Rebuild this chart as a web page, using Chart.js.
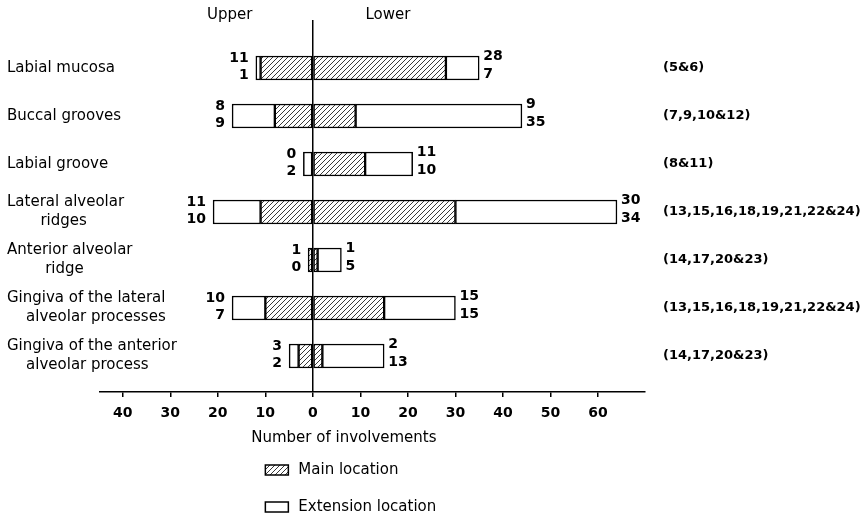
<!DOCTYPE html>
<html><head><meta charset="utf-8">
<script src="https://cdn.jsdelivr.net/npm/chart.js@4/dist/chart.umd.min.js"></script>
<style>html,body{margin:0;padding:0;background:#fff}</style>
</head><body>
<canvas id="c" width="867" height="518"></canvas>
<script>
const categories = [
  ['Labial mucosa'],
  ['Buccal grooves'],
  ['Labial groove'],
  ['Lateral alveolar', '       ridges'],
  ['Anterior alveolar', '        ridge'],
  ['Gingiva of the lateral', '    alveolar processes'],
  ['Gingiva of the anterior', '    alveolar process']
];
const studyRefs = ['(5&6)', '(7,9,10&12)', '(8&11)', '(13,15,16,18,19,21,22&24)', '(14,17,20&23)', '(13,15,16,18,19,21,22&24)', '(14,17,20&23)'];
const upperMain = [11, 8, 0, 11, 1, 10, 3];
const upperExt  = [1, 9, 2, 10, 0, 7, 2];
const lowerMain = [28, 9, 11, 30, 1, 15, 2];
const lowerExt  = [7, 35, 10, 34, 5, 15, 13];
const xTicks = [-40, -30, -20, -10, 0, 10, 20, 30, 40, 50, 60];
const sideLabels = ['Upper', 'Lower'];
const legendLabels = ['Main location', 'Extension location'];

const FONT = '"DejaVu Sans", sans-serif';
const canvas = document.getElementById('c');
const ctx0 = canvas.getContext('2d');

function makeHatch() {
  const s = 5;
  const c = document.createElement('canvas');
  c.width = s; c.height = s;
  const g = c.getContext('2d');
  g.fillStyle = '#fff'; g.fillRect(0, 0, s, s);
  g.strokeStyle = '#222'; g.lineWidth = 0.9;
  g.beginPath();
  g.moveTo(-1, s + 1); g.lineTo(s + 1, -1);
  g.moveTo(-1, 1); g.lineTo(1, -1);
  g.moveTo(s - 1, s + 1); g.lineTo(s + 1, s - 1);
  g.stroke();
  return ctx0.createPattern(c, 'repeat');
}
const hatch = makeHatch();

const barCommon = {
  borderColor: '#000',
  borderWidth: 1.5,
  borderSkipped: false,
  barThickness: 24
};

const idx = categories.map((_, i) => i);

const extras = {
  id: 'extras',
  afterDraw(chart) {
    const { ctx, scales: { x, y } } = chart;
    ctx.save();
    ctx.fillStyle = '#000';
    ctx.textBaseline = 'middle';
    ctx.font = 'bold 14px ' + FONT;
    categories.forEach((_, i) => {
      const yc = y.getPixelForValue(i);
      const lx = x.getPixelForValue(-(upperMain[i] + upperExt[i])) - 7;
      ctx.textAlign = 'right';
      ctx.fillText(String(upperMain[i]), lx, yc - 10);
      ctx.fillText(String(upperExt[i]), lx, yc + 7);
      const rx = x.getPixelForValue(lowerMain[i] + lowerExt[i]) + 4;
      ctx.textAlign = 'left';
      ctx.fillText(String(lowerMain[i]), rx, yc - 12);
      ctx.fillText(String(lowerExt[i]), rx, yc + 6);
    });
    ctx.font = '15px ' + FONT;
    ctx.textAlign = 'center';
    ctx.fillText(sideLabels[0], x.getPixelForValue(-17.5), 15);
    ctx.fillText(sideLabels[1], x.getPixelForValue(15.8), 15);

    // legend
    const bx = x.getPixelForValue(-10);
    const rows = [chart.height - 48, chart.height - 11];
    const fills = [hatch, '#fff'];
    ctx.textAlign = 'left';
    rows.forEach((yc, k) => {
      ctx.fillStyle = fills[k];
      ctx.fillRect(bx, yc - 5, 23, 10);
      ctx.strokeStyle = '#000';
      ctx.lineWidth = 1.5;
      ctx.strokeRect(bx, yc - 5, 23, 10);
      ctx.fillStyle = '#000';
      ctx.fillText(legendLabels[k], bx + 33, yc);
    });
    ctx.restore();
  }
};

new Chart(canvas, {
  type: 'bar',
  data: {
    labels: idx,
    datasets: [
      Object.assign({ label: 'Upper main', data: upperMain.map(v => -v), backgroundColor: hatch }, barCommon),
      Object.assign({ label: 'Upper extension', data: upperExt.map(v => -v), backgroundColor: '#fff' }, barCommon),
      Object.assign({ label: 'Lower main', data: lowerMain, backgroundColor: hatch }, barCommon),
      Object.assign({ label: 'Lower extension', data: lowerExt, backgroundColor: '#fff' }, barCommon)
    ]
  },
  options: {
    indexAxis: 'y',
    responsive: false,
    animation: false,
    layout: { padding: { left: 7, top: 20, right: 0, bottom: 0 } },
    plugins: { legend: { display: false }, tooltip: { enabled: false } },
    scales: {
      x: {
        type: 'linear', min: -44.8, max: 69.9, stacked: true, z: 1,
        afterBuildTicks: s => { s.ticks = xTicks.map(v => ({ value: v })); },
        ticks: {
          callback: v => String(Math.abs(v)),
          font: { family: FONT, size: 14, weight: 'bold' },
          color: '#000', padding: 8, maxRotation: 0, autoSkip: false
        },
        grid: {
          drawOnChartArea: true,
          color: c => (c.tick && c.tick.value === 0) ? '#000' : 'rgba(0,0,0,0)',
          lineWidth: 1.5,
          tickColor: '#000', tickLength: 5, tickWidth: 1.5
        },
        border: { display: true, color: '#000', width: 1.5 },
        title: {
          display: true, text: 'Number of involvements            ',
          font: { family: FONT, size: 15 }, color: '#000',
          padding: { top: 0, bottom: 71 }
        },
        afterFit: s => { s.height = 126; s.paddingLeft = 0; s.paddingRight = 0; }
      },
      y: {
        type: 'linear', min: -1, max: 6.75, reverse: true, stacked: true, offset: false,
        afterBuildTicks: s => { s.ticks = idx.map(v => ({ value: v })); },
        ticks: {
          callback: v => categories[v],
          mirror: true,
          crossAlign: 'near',
          font: { family: FONT, size: 15, lineHeight: 1.27 },
          color: '#000', autoSkip: false, padding: -93
        },
        grid: { display: false, drawTicks: false, offset: false },
        border: { display: false },
        afterFit: s => { s.width = 93; s.paddingTop = 0; s.paddingBottom = 0; }
      },
      y2: {
        type: 'linear', position: 'right', min: -1, max: 6.75, reverse: true, offset: false,
        afterBuildTicks: s => { s.ticks = idx.map(v => ({ value: v })); },
        ticks: {
          callback: v => studyRefs[v],
          crossAlign: 'near',
          font: { family: FONT, size: 13, weight: 'bold' },
          color: '#000', autoSkip: false, padding: 18
        },
        grid: { display: false, drawTicks: false, offset: false },
        border: { display: false },
        afterFit: s => { s.width = 222; s.paddingTop = 0; s.paddingBottom = 0; }
      }
    }
  },
  plugins: [extras]
});
</script>
</body></html>
